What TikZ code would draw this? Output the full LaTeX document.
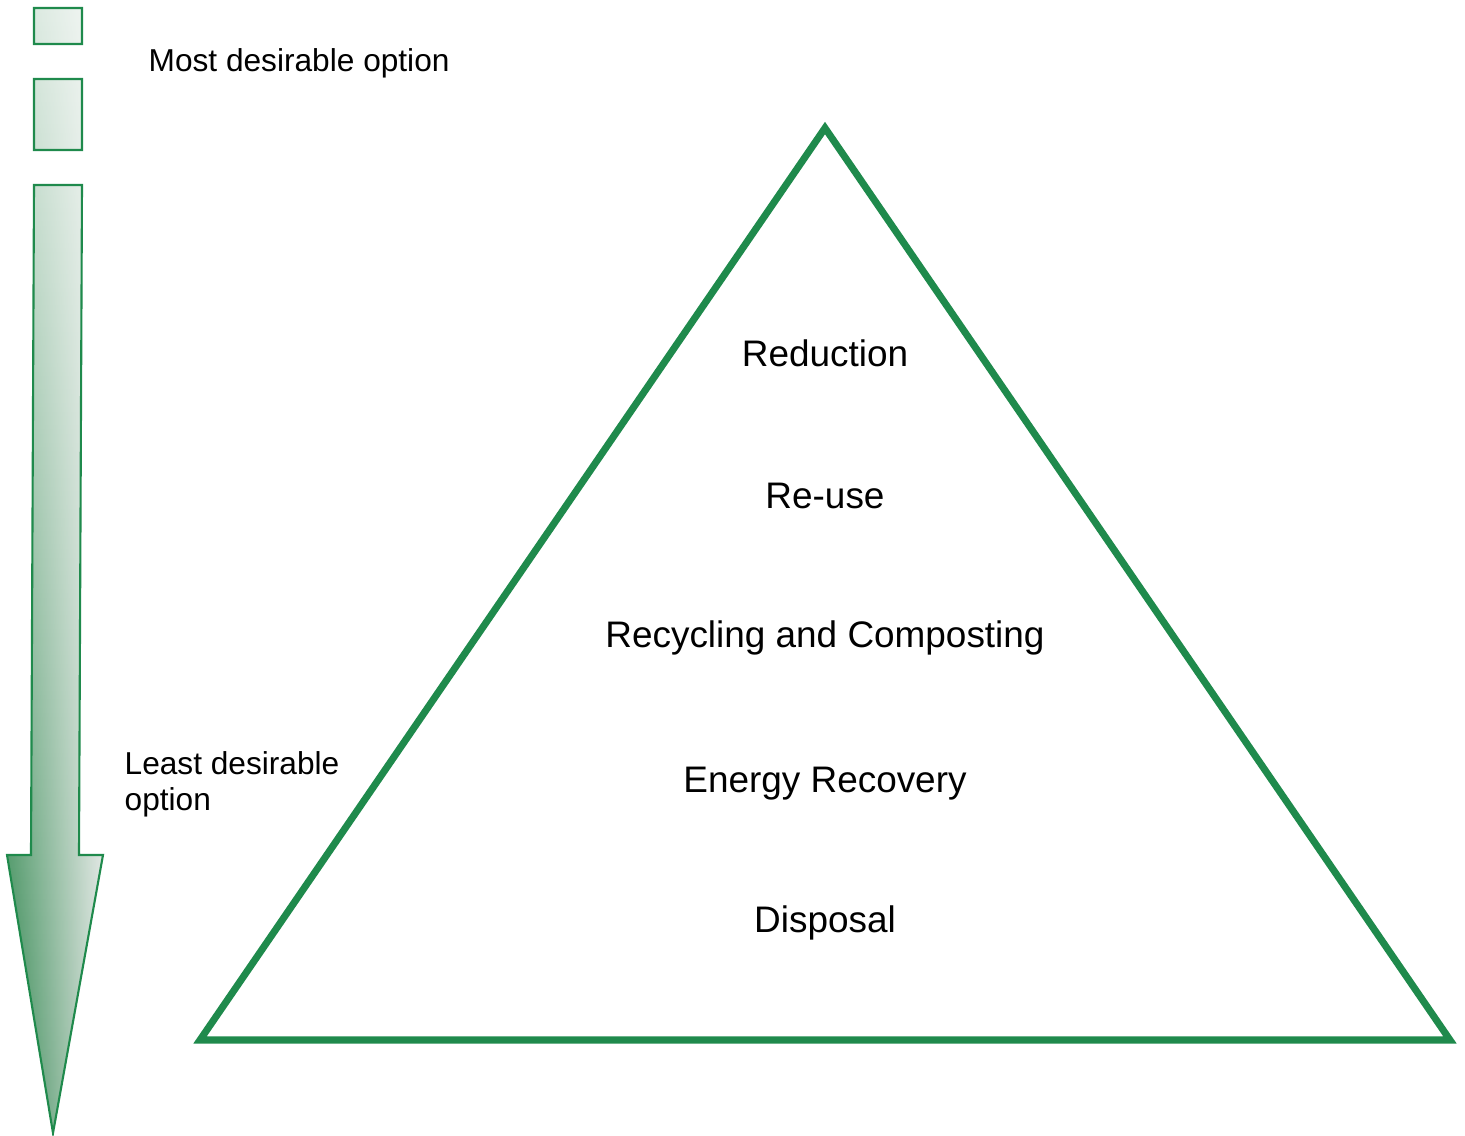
\documentclass[tikz,border=0pt]{standalone}
\usepackage{fontspec}
\setmainfont{Liberation Sans}
\usetikzlibrary{fadings}
\definecolor{leafgreen}{RGB}{31,138,76}
\definecolor{palegrey}{RGB}{218,226,221}
\definecolor{darkgreen}{RGB}{48,134,78}
\tikzstyle{level}=[inner sep=0pt,anchor=base,font=\fontsize{10.5}{12}\selectfont]
\tikzstyle{note}=[inner sep=0pt,anchor=base west,align=left,font=\fontsize{9}{10}\selectfont]
\tikzstyle{gradfill}=[left color=darkgreen,right color=palegrey]
\tikzstyle{whiten}=[fill=white,fill opacity=0.78,path fading=south]

% boxes and the long arrow, as one path
\newcommand{\arrowpath}{(34,8) rectangle (82,44)
	(34,79) rectangle (82,150)
	(34,185) -- (82,185) -- (79,855) -- (103,855) -- (53,1133) -- (7,855) -- (31,855) -- cycle}

\begin{document}
\begin{tikzpicture}[x=0.01cm,y=-0.01cm]
	\useasboundingbox (0,0) rectangle (1465,1135);

	\path[gradfill] \arrowpath;
	\path[whiten] \arrowpath;
	\draw[leafgreen,line width=0.6pt] \arrowpath;

	\node[note] (most) at (148,71) {Most desirable option};
	\node[note] (least) at (124,810) {Least desirable\\option};

	\coordinate (apex) at (825,128);
	\coordinate (baseleft) at (200,1040);
	\coordinate (baseright) at (1450,1040);
	\draw[leafgreen,line width=2pt,miter limit=20] (apex) -- (baseright) -- (baseleft) -- cycle;

	\node[level] (reduction) at (825,366) {Reduction};
	\node[level] (reuse) at (825,508) {Re-use};
	\node[level] (recycling) at (825,647) {Recycling and Composting};
	\node[level] (energy) at (825,792) {Energy Recovery};
	\node[level] (disposal) at (825,932) {Disposal};
\end{tikzpicture}
\end{document}
